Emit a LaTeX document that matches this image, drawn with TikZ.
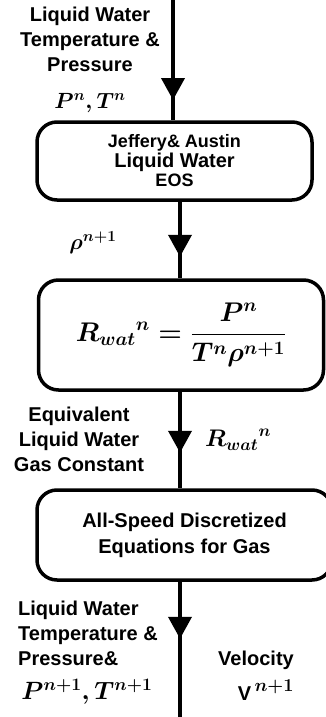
\RequirePackage{fix-cm}
\documentclass[tikz,border=0pt]{standalone}
\usepackage{amsmath,bm}
\usepackage[no-math]{fontspec}
\setmainfont{Liberation Sans}
\usetikzlibrary{arrows.meta,decorations.markings}

\tikzset{
  stage/.style={draw,line width=3.5pt,rounded corners=20pt,align=center,inner sep=0pt},
  lbl/.style={align=center,inner sep=0pt,font=\bfseries\fontsize{20}{25}\selectfont},
  mth/.style={inner sep=0pt,font=\boldmath\fontsize{22}{26}\selectfont},
  flow/.style={line width=4pt},
  tipat/.style={postaction={decorate},decoration={markings,
    mark=at position #1 with {\arrow{Triangle[length=22pt,width=23pt]}}}},
}

\begin{document}
\begin{tikzpicture}[x=1pt,y=-1pt]
\useasboundingbox (0,0) rectangle (326,717);

% stages
\node[stage,minimum width=275pt,minimum height=78pt,font=\bfseries\fontsize{18}{19.5}\selectfont]
  (eos) at (174.5,161) {Jeffery\& Austin\\{\fontsize{20}{19.5}\selectfont Liquid Water}\\EOS};
\node[stage,minimum width=285pt,minimum height=110pt,font=\boldmath\fontsize{27}{30}\selectfont]
  (rwat) at (181,335) {$\displaystyle {R_{wat}}^{n} = \frac{P^{n}}{T^{n}\rho^{n+1}}$};
\node[stage,minimum width=295pt,minimum height=90pt,font=\bfseries\fontsize{20}{26}\selectfont]
  (speed) at (184.5,535) {All-Speed Discretized\\Equations for Gas};

% end points
\coordinate (src) at (173,0);
\coordinate (out) at (180,717);

% connectors
\draw[flow,tipat=100pt] (src) -- (src |- eos.north);
\draw[flow,tipat=55pt] (out |- eos.south) -- (out |- rwat.north);
\draw[flow,tipat=61pt] (out |- rwat.south) -- (out |- speed.north);
\draw[flow,tipat=57pt] (out |- speed.south) -- (out);

% labels
\node[lbl] (inlbl) at (90,39) {Liquid Water\\Temperature \&\\Pressure};
\node[mth] (invar) at (90,103) {$P^{n},T^{n}$};
\node[mth] (rholbl) at (93,243) {$\rho^{n+1}$};
\node[lbl] (gaslbl) at (79,439) {Equivalent\\Liquid Water\\Gas Constant};
\node[mth,font=\boldmath\fontsize{24}{26}\selectfont] (gasvar) at (238,440) {${R_{wat}}^{n}$};
\node[lbl,align=left,anchor=west] (outlbl) at (18,633) {Liquid Water\\Temperature \&\\Pressure\&};
\node[mth,font=\boldmath\fontsize{25}{28}\selectfont] (outvar) at (87,692) {$P^{n+1},T^{n+1}$};
\node[lbl] (vellbl) at (256,660) {Velocity};
\node[lbl] (velvar) at (266,690) {V\,{\fontsize{26}{28}\selectfont$\boldsymbol{^{n+1}}$}};
\end{tikzpicture}
\end{document}
